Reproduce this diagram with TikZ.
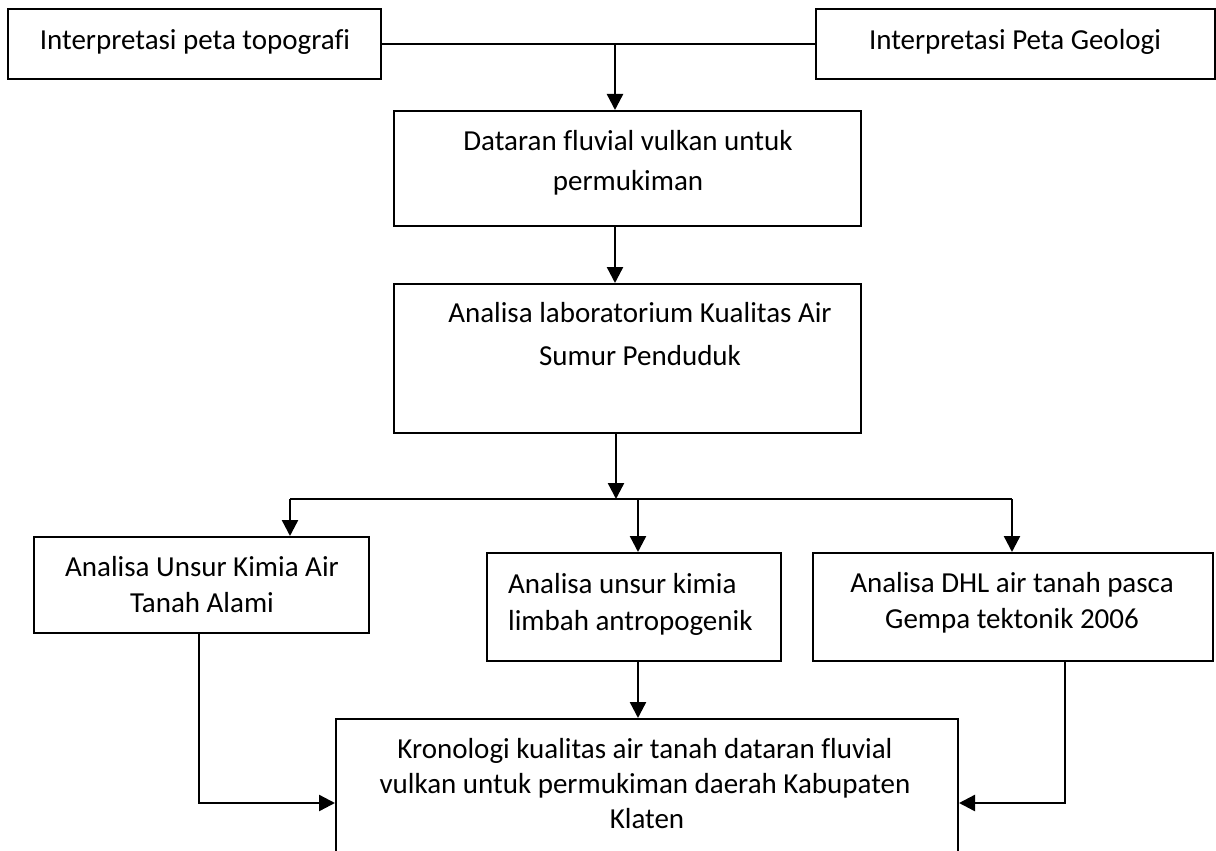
\documentclass[tikz,border=0pt]{standalone}
\usepackage{fontspec}
\setmainfont{Carlito}[Ligatures=NoCommon]
\usetikzlibrary{arrows.meta,calc}
\tikzset{
  box/.style={draw=black, line width=2pt, inner sep=0pt, rectangle},
  txt/.style={inner sep=0pt, anchor=base, font=\fontsize{29}{36}\selectfont},
  txtl/.style={txt, anchor=base west},
  ln/.style={draw=black, line width=2.4pt},
  arr/.style={ln, -{Triangle[width=16pt,length=16pt]}}
}
\begin{document}
\begin{tikzpicture}[x=1pt,y=-1pt]
\useasboundingbox (0,0) rectangle (1216,851);
\clip (0,0) rectangle (1216,851);
% boxes
\node[box, minimum width=373pt, minimum height=70pt] (topo) at (194.5,44) {};
\node[box, minimum width=399pt, minimum height=70pt] (geo) at (1015.5,44) {};
\node[box, minimum width=467pt, minimum height=115pt] (dat) at (627.5,168.5) {};
\node[box, minimum width=467pt, minimum height=149pt] (lab) at (627.5,358.5) {};
\node[box, minimum width=335pt, minimum height=96pt] (kiri) at (201.5,585) {};
\node[box, minimum width=294pt, minimum height=108pt] (limbah) at (634,607) {};
\node[box, minimum width=400pt, minimum height=108pt] (dhl) at (1013,607) {};
\node[box, minimum width=622pt, minimum height=200pt] (kron) at (647,819) {};
% texts
\node[txt] (t1) at (195,50) {Interpretasi peta topografi};
\node[txt] (t2) at (1015,50) {Interpretasi Peta Geologi};
\node[txt] (t3a) at (628,150) {Dataran fluvial vulkan untuk};
\node[txt] (t3b) at (628,190) {permukiman};
\node[txt] (t4a) at (640,322) {Analisa laboratorium Kualitas Air};
\node[txt] (t4b) at (640,365) {Sumur Penduduk};
\node[txt] (t5a) at (202,576) {Analisa Unsur Kimia Air};
\node[txt] (t5b) at (202,612) {Tanah Alami};
\node[txtl] (t6a) at (508,593) {Analisa unsur kimia};
\node[txtl] (t6b) at (508,630) {limbah antropogenik};
\node[txt] (t7a) at (1012,592) {Analisa DHL air tanah pasca};
\node[txt] (t7b) at (1012,628) {Gempa tektonik 2006};
\node[txt] (t8a) at (645,758) {Kronologi kualitas air tanah dataran fluvial};
\node[txt] (t8b) at (645,793) {vulkan untuk permukiman daerah Kabupaten};
\node[txt] (t8c) at (647,828) {Klaten};
% junction coordinates
\coordinate (j1) at (615,44);
\coordinate (j2) at (616,499);
\coordinate (bl) at (290,499);
\coordinate (bm) at (638,499);
\coordinate (br) at (1012,499);
\coordinate (ka) at (199,803);
\coordinate (kb) at (1065,803);
% connectors
\draw[ln] (topo.east) -- (geo.west);
\draw[arr] (j1) -- (j1 |- dat.north);
\draw[arr] (dat.south -| j1) -- (lab.north -| j1);
\draw[arr] (lab.south -| j2) -- (j2);
\draw[ln] (bl) -- (br);
\draw[arr] (bl) -- (bl |- kiri.north);
\draw[arr] (bm) -- (bm |- limbah.north);
\draw[arr] (br) -- (br |- dhl.north);
\draw[arr] (limbah.south -| bm) -- (bm |- kron.north);
\draw[arr] (kiri.south -| ka) -- (ka) -- (kron.west |- ka);
\draw[arr] (dhl.south -| kb) -- (kb) -- (kron.east |- kb);
\end{tikzpicture}
\end{document}
